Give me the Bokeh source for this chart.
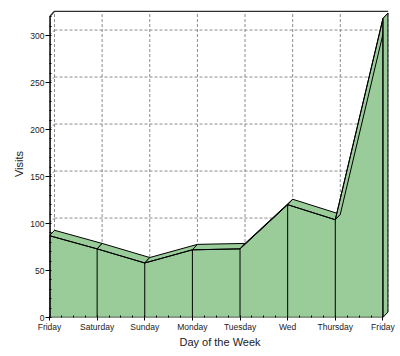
import numpy as np
from bokeh.plotting import figure
from bokeh.models import FixedTicker, Range1d
from bokeh.embed import file_html
from bokeh.resources import INLINE

# ---- data ----
days = ["Friday", "Saturday", "Sunday", "Monday", "Tuesday", "Wed", "Thursday", "Friday"]
visits = [87, 73, 58, 72, 73, 120, 104, 318]
y_ticks = [0, 50, 100, 150, 200, 250, 300]
y_top = 320

# ---- style constants ----
GREEN = "#99CC99"
DX = 0.105   # depth offset in x (days)
DY = 5.8     # depth offset in y (visits)
FONT = "Liberation Sans"

x = list(range(len(days)))
n = len(x)
xl = x[-1]

p = figure(width=400, height=356, output_backend="svg", toolbar_location=None,
           x_range=Range1d(0, 7.159), y_range=Range1d(0, 326.6),
           min_border_left=49, min_border_right=10, min_border_top=10, min_border_bottom=39)
p.outline_line_color = None
p.xgrid.visible = False
p.ygrid.visible = False
p.background_fill_color = "white"

# back-wall gridlines
grid_kw = dict(line_color="#8a8a8a", line_dash="3 2", line_width=1)
gy = [t + DY for t in y_ticks if t > 0]
p.segment(x0=[DX] * len(gy), y0=gy, x1=[xl + DX] * len(gy), y1=gy, **grid_kw)
gx = [xi + DX for xi in x]
p.segment(x0=gx, y0=[DY] * n, x1=gx, y1=[y_top + DY] * n, **grid_kw)
# left wall diagonals
lt = [t for t in y_ticks if t > 0]
p.segment(x0=[0] * len(lt), y0=lt, x1=[DX] * len(lt), y1=[t + DY for t in lt], **grid_kw)

# front area
p.varea(x=x, y1=[0] * n, y2=visits, fill_color=GREEN)
# top 3D band
bx = [[x[i], x[i + 1], x[i + 1] + DX, x[i] + DX] for i in range(n - 1)]
by = [[visits[i], visits[i + 1], visits[i + 1] + DY, visits[i] + DY] for i in range(n - 1)]
p.patches(bx, by, fill_color=GREEN, line_color="black", line_width=1)
# right side face
p.patch([xl, xl, xl + DX, xl + DX], [0, visits[-1], visits[-1] + DY, DY],
        fill_color=GREEN, line_color="black", line_width=1)
# front outline and drops
p.line(x, visits, line_color="black", line_width=1)
p.segment(x0=x, y0=[0] * n, x1=x, y1=visits, line_color="black", line_width=1)

# frame lines
p.line([xl, 0, 0, DX, xl + DX], [0, 0, y_top, y_top + DY, y_top + DY],
       line_color="#303030", line_width=1.5)
p.segment(x0=[0], y0=[0], x1=[0], y1=[y_top], line_color="black", line_width=2.5)

# axes
p.xaxis.ticker = FixedTicker(ticks=x, minor_ticks=[i / 4 for i in range(0, 4 * xl + 1)])
p.xaxis.major_label_overrides = {i: d for i, d in enumerate(days)}
p.yaxis.ticker = FixedTicker(ticks=y_ticks, minor_ticks=list(range(0, 330, 10)))
for ax in (p.xaxis, p.yaxis):
    ax.axis_line_color = None
    ax.major_tick_line_color = "black"
    ax.minor_tick_line_color = "black"
    ax.major_label_text_font = FONT
    ax.major_label_text_font_size = "8.5px"
    ax.major_label_text_color = "#222222"
    ax.axis_label_text_font = FONT
    ax.axis_label_text_font_size = "11px"
    ax.axis_label_text_font_style = "normal"
    ax.axis_label_text_color = "#222222"

p.xaxis.axis_label = "Day of the Week"
p.xaxis.major_tick_in = 0
p.xaxis.major_tick_out = 3
p.xaxis.minor_tick_in = 2
p.xaxis.minor_tick_out = 0
p.xaxis.major_label_standoff = 1
p.xaxis.axis_label_standoff = 1

p.yaxis.axis_label = "Visits"
p.yaxis.major_tick_in = 0
p.yaxis.major_tick_out = 4
p.yaxis.minor_tick_in = 2
p.yaxis.minor_tick_out = 0
p.yaxis.major_label_standoff = 1
p.yaxis.axis_label_standoff = 2

open("out.html", "w").write(file_html(p, INLINE))
